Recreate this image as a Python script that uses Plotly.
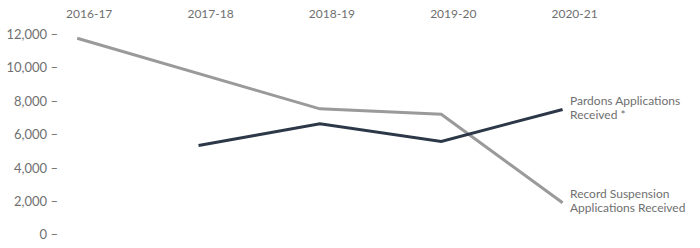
import plotly.graph_objects as go

years = ["2016-17", "2017-18", "2018-19", "2019-20", "2020-21"]
record_suspension = [11770, 9650, 7540, 7210, 1910]
pardons = [None, 5345, 6640, 5590, 7500]
y_ticks = [0, 2000, 4000, 6000, 8000, 10000, 12000]
pardons_label = ["Pardons Applications", "Received *"]
record_label = ["Record Suspension", "Applications Received"]

FONT = "Lato"
TXT = "#6f6f6f"
x_idx = list(range(len(years)))

fig = go.Figure()
fig.add_trace(go.Scatter(x=x_idx, y=record_suspension, mode="lines",
                         line=dict(color="#9a9a9a", width=3), hoverinfo="skip"))
fig.add_trace(go.Scatter(x=x_idx, y=pardons, mode="lines",
                         line=dict(color="#2c3848", width=3), hoverinfo="skip"))

for yv, lines in ((pardons[-1], pardons_label), (record_suspension[-1], record_label)):
    for line_txt, shift in zip(lines, (9.5, -5.0)):
        fig.add_annotation(x=x_idx[-1], y=yv, text=line_txt,
                           xanchor="left", yanchor="middle", xshift=6, yshift=shift,
                           showarrow=False, align="left", borderpad=0,
                           font=dict(family=FONT, size=12, color=TXT))

fig.update_layout(
    width=700, height=248,
    margin=dict(l=54, r=101, t=18, b=6),
    paper_bgcolor="white", plot_bgcolor="white",
    showlegend=False,
    font=dict(family=FONT, size=12, color=TXT),
    xaxis=dict(range=[-0.15, 4.3], tickmode="array", tickvals=x_idx, ticktext=years,
               side="top", showgrid=False, zeroline=False, showline=False,
               ticklabelshift=12, tickfont=dict(family=FONT, size=12, color=TXT)),
    yaxis=dict(range=[-17, 12801], tickmode="array", tickvals=y_ticks,
               ticktext=[f"{v:,} \u2013" for v in y_ticks],
               showgrid=False, zeroline=False, showline=False,
               ticklabeloverflow="allow",
               tickfont=dict(family=FONT, size=13, color=TXT)),
)

fig.write_html("out.html")
